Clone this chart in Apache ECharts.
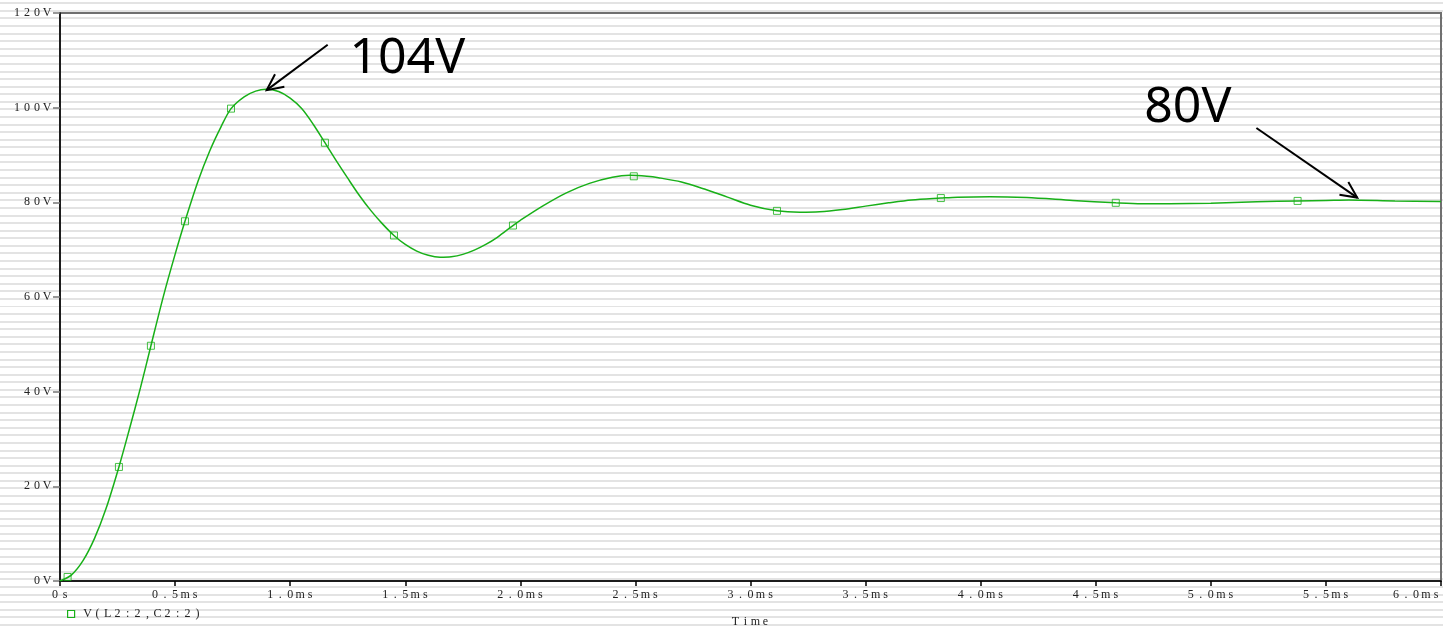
<!DOCTYPE html>
<html>
<head>
<meta charset="utf-8">
<title>V(L2:2,C2:2)</title>
<script src="https://cdn.jsdelivr.net/npm/echarts@6/dist/echarts.min.js"></script>
<style>
html, body { margin: 0; padding: 0; }
body {
  width: 1443px;
  height: 628px;
  overflow: hidden;
  background: repeating-linear-gradient(to bottom, #fff 0, #fff 2.3px, #e3e3e3 2.3px, #e3e3e3 4.3px, #fff 4.3px, #fff 7.58px);
}
#chart { width: 1443px; height: 628px; }
</style>
</head>
<body>
<div id="chart"></div>
<script>
// trace V(L2:2,C2:2), time in ms
const timeMs = [0, 0.05, 0.1, 0.15, 0.2, 0.256, 0.3, 0.35, 0.395, 0.45, 0.5, 0.543, 0.6, 0.65, 0.7, 0.743,
  0.8, 0.85, 0.895, 0.95, 1.0, 1.05, 1.1, 1.151, 1.2, 1.25, 1.3, 1.35, 1.4, 1.451, 1.5, 1.55, 1.6, 1.651,
  1.7, 1.75, 1.8, 1.85, 1.9, 1.968, 2.0, 2.1, 2.2, 2.3, 2.4, 2.476, 2.55, 2.6, 2.7, 2.8, 2.9, 3.0, 3.115,
  3.215, 3.3, 3.4, 3.5, 3.6, 3.7, 3.827, 3.9, 4.04, 4.2, 4.4, 4.587, 4.7, 4.82, 5.0, 5.2, 5.377, 5.5, 5.6,
  5.8, 6.0]
const voltage = [0, 1.3, 4.3, 9.0, 15.3, 24.1, 31.8, 40.9, 49.7, 60.3, 69.0, 76.0, 84.5, 90.8, 96.0, 99.8,
  102.3, 103.5, 103.9, 103.4, 102.0, 99.8, 96.5, 92.6, 88.8, 85.1, 81.5, 78.3, 75.5, 73.0, 71.1, 69.7, 68.8, 68.4,
  68.5, 69.0, 69.9, 71.1, 72.6, 75.1, 76.2, 79.3, 82.0, 84.0, 85.3, 85.7, 85.5, 85.2, 84.3, 82.8, 81.1, 79.4, 78.2,
  77.9, 78.0, 78.5, 79.2, 79.9, 80.5, 80.9, 81.1, 81.2, 81.0, 80.4, 79.9, 79.7, 79.7, 79.8, 80.1, 80.3, 80.4, 80.5,
  80.3, 80.2]

// the little square markers on the trace
const markerMs = [0.033, 0.256, 0.395, 0.543, 0.743, 1.151, 1.451, 1.968, 2.493, 3.115, 3.827, 4.587, 5.377]
const markerV = [0.85, 24.1, 49.7, 76.0, 99.8, 92.6, 73.0, 75.1, 85.5, 78.2, 80.9, 79.9, 80.3]

const xTickLabels = ['0s', '0.5ms', '1.0ms', '1.5ms', '2.0ms', '2.5ms', '3.0ms', '3.5ms', '4.0ms', '4.5ms', '5.0ms', '5.5ms', '6.0ms']
const yTickLabels = ['0V', '20V', '40V', '60V', '80V', '100V', '120V']

const traceName = 'V(L2:2,C2:2)'
const green = '#18b018'

// hand written notes with arrows (data coords)
const notes = [
  { text: '104V', label: [1.509, 110.4], tail: [1.163, 113.3], head: [0.898, 103.7] },
  { text: '80V', label: [4.9, 100.0], tail: [5.198, 95.7], head: [5.636, 81.0] }
]

// probe style: every char in its own cell
const cell = { width: 10, align: 'center', fontFamily: 'Liberation Serif', fontSize: 12, color: '#222' }
const spaced = s => s.split('').map(c => '{c|' + c + '}').join('')

const chart = echarts.init(document.getElementById('chart'))
chart.setOption({
  backgroundColor: 'transparent',
  animation: false,
  grid: {
    left: 60,
    right: 2,
    top: 13,
    bottom: 47,
    show: true,
    borderColor: '#707070',
    borderWidth: 2,
    backgroundColor: 'transparent',
    outerBoundsMode: 'none'
  },
  legend: {
    left: 62,
    top: 603,
    itemWidth: 7,
    itemHeight: 7,
    data: [{ name: traceName, icon: 'rect' }],
    itemStyle: { color: 'transparent', borderColor: green, borderWidth: 1.2 },
    formatter: n => '{g| }' + spaced(n),
    textStyle: { rich: { c: cell, g: { width: 3 } } }
  },
  xAxis: {
    type: 'value',
    min: 0,
    max: 6,
    interval: 0.5,
    name: spaced('Time'),
    nameLocation: 'middle',
    nameGap: 35,
    nameTextStyle: { rich: { c: cell } },
    axisLine: { lineStyle: { color: '#000', width: 1.5 } },
    axisTick: { show: true, length: 5, lineStyle: { color: '#000', width: 1.5 } },
    axisLabel: {
      margin: 8,
      alignMaxLabel: 'right',
      formatter: (v, i) => spaced(xTickLabels[i]),
      rich: { c: cell }
    },
    splitLine: { show: false }
  },
  yAxis: {
    type: 'value',
    min: 0,
    max: 120,
    interval: 20,
    axisLine: { show: true, lineStyle: { color: '#000', width: 1.5 } },
    axisTick: { show: true, length: 7, lineStyle: { color: '#777', width: 1.5 } },
    axisLabel: {
      margin: 8,
      formatter: (v, i) => spaced(yTickLabels[i]),
      rich: { c: cell }
    },
    splitLine: { show: false }
  },
  series: [
    {
      name: traceName,
      type: 'line',
      data: timeMs.map((t, i) => [t, voltage[i]]),
      showSymbol: false,
      symbol: 'none',
      smooth: 0.3,
      lineStyle: { color: green, width: 1.5 },
      z: 3
    },
    {
      name: traceName,
      type: 'scatter',
      data: markerMs.map((t, i) => [t, markerV[i]]),
      symbol: 'rect',
      symbolSize: 7,
      itemStyle: { color: 'transparent', borderColor: green, borderWidth: 1 },
      z: 4
    }
  ]
})

// notes go on top as graphics, placed through the grid's own scales
function drawNotes () {
  const els = []
  notes.forEach(n => {
    const p = chart.convertToPixel({ gridIndex: 0 }, n.label)
    const a = chart.convertToPixel({ gridIndex: 0 }, n.tail)
    const b = chart.convertToPixel({ gridIndex: 0 }, n.head)
    const ang = Math.atan2(a[1] - b[1], a[0] - b[0])
    const wing = d => [b[0] + 18 * Math.cos(ang + d), b[1] + 18 * Math.sin(ang + d)]
    els.push({
      type: 'text',
      z: 10,
      style: { text: n.text, x: p[0], y: p[1], fontSize: 50, fontFamily: 'Noto Sans', fill: '#000', align: 'center', verticalAlign: 'middle' }
    })
    els.push({ type: 'polyline', z: 10, shape: { points: [a, b] }, style: { stroke: '#000', lineWidth: 2, fill: 'none' } })
    els.push({ type: 'polyline', z: 10, shape: { points: [wing(0.45), b, wing(-0.45)] }, style: { stroke: '#000', lineWidth: 2, fill: 'none' } })
  })
  chart.setOption({ graphic: els })
}
drawNotes()
</script>
</body>
</html>
